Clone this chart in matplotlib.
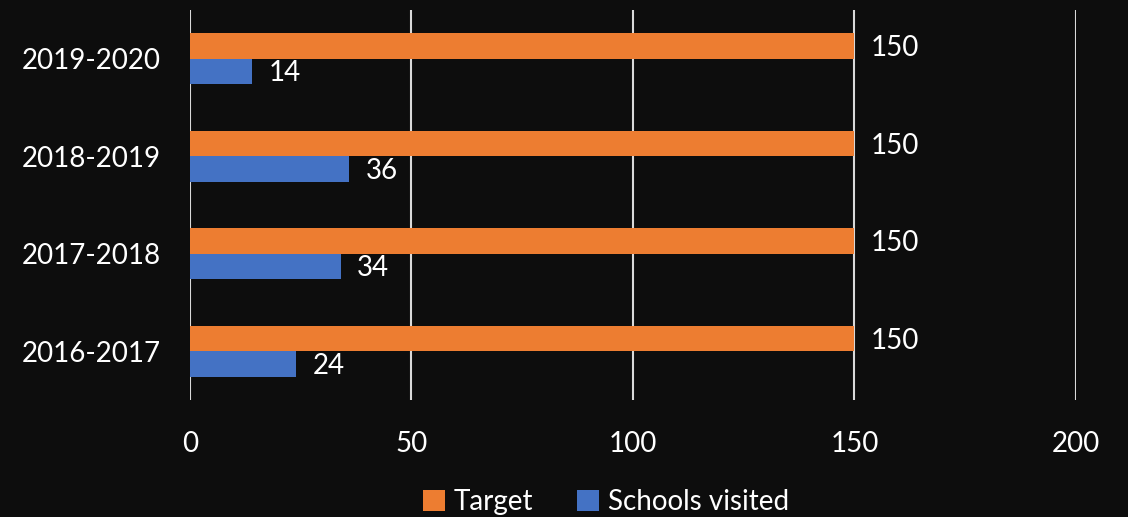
import numpy as np
import matplotlib.pyplot as plt

plt.rcParams['font.family'] = ['Lato', 'DejaVu Sans']

# data
years = ['2016-2017', '2017-2018', '2018-2019', '2019-2020']
target = [150, 150, 150, 150]
visited = [24, 34, 36, 14]

bg = '#0d0d0d'
orange = '#ed7d31'
blue = '#4472c4'

fig = plt.figure(figsize=(11.28, 5.17), dpi=100, facecolor=bg)
ax = fig.add_axes([0.1684, 0.2263, 0.7855, 0.7544], facecolor=bg)

y = np.arange(len(years))
h = 0.26
b1 = ax.barh(y + h / 2, target, height=h, color=orange, label='Target', zorder=3)
b2 = ax.barh(y - h / 2, visited, height=h, color=blue, label='Schools visited', zorder=3)

for bars in (b1, b2):
    for bar in bars:
        w = bar.get_width()
        ax.text(w + 3.7, bar.get_y() + bar.get_height() / 2 - 0.02, f'{w:g}',
                color='white', fontsize=20, va='center', ha='left')

ax.set_xlim(0, 200)
ax.set_ylim(-0.5, 3.5)
ax.set_xticks([0, 50, 100, 150, 200])
ax.set_yticks(y)
ax.set_yticklabels(years)
ax.xaxis.grid(True, color='#d9d9d9', linewidth=1.5, zorder=0)
ax.tick_params(axis='both', colors='white', labelsize=20, length=0)
ax.tick_params(axis='x', pad=22)
ax.tick_params(axis='y', pad=21)
for s in ax.spines.values():
    s.set_visible(False)

leg = fig.legend(handles=[b1, b2], loc='lower center', bbox_to_anchor=(0.537, -0.045),
                 ncol=2, frameon=False, fontsize=20, labelcolor='white',
                 handlelength=0.8, handleheight=0.8, handletextpad=0.3, columnspacing=1.6)

fig.savefig('out.png', dpi=100, facecolor=bg)
